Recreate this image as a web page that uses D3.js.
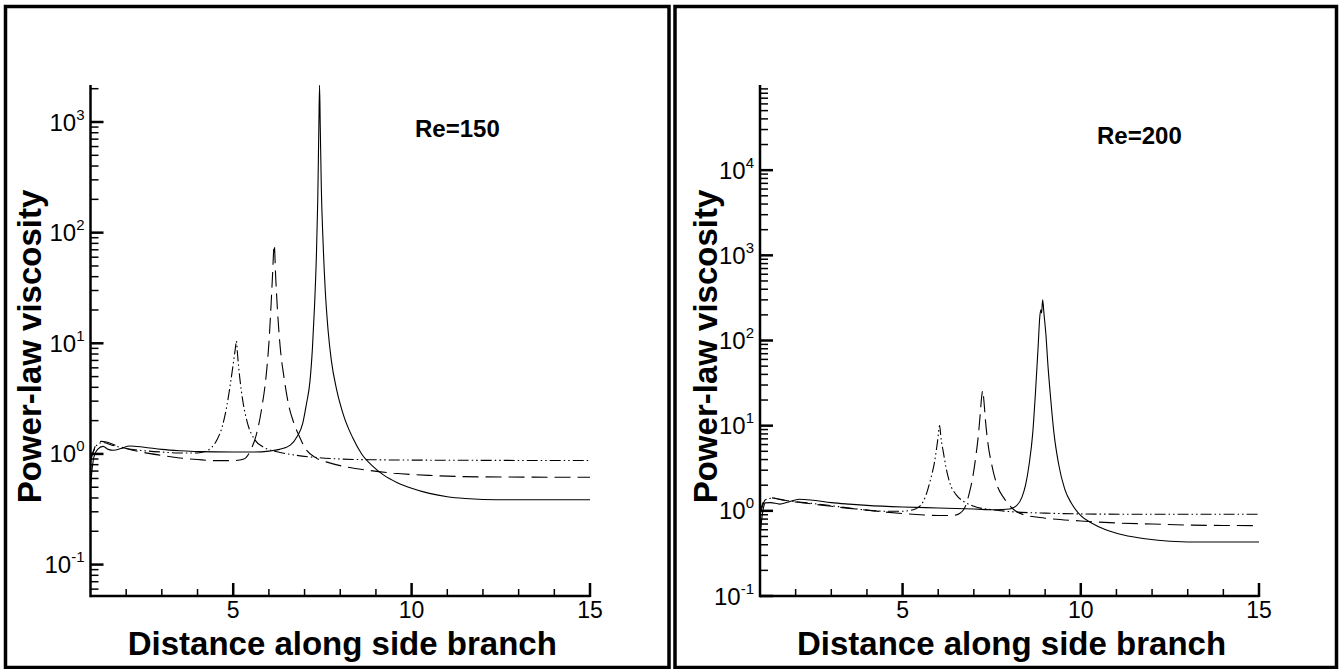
<!DOCTYPE html>
<html>
<head>
<meta charset="utf-8">
<script src="https://cdn.jsdelivr.net/npm/d3@7"></script>
<style>
  body { margin: 0; background: #fff; }
  svg { display: block; }
  text { font-family: "Liberation Sans", Arial, Helvetica, sans-serif; fill: #000; }
</style>
</head>
<body>
<svg id="chart" width="1343" height="669"></svg>
<script>
// ---- axis ticks ----
const xMajorTicks = [5, 10, 15];
const xMinorTicks = [2, 3, 4, 6, 7, 8, 9, 11, 12, 13, 14];
const yExponentsRe150 = [-1, 0, 1, 2, 3];
const yExponentsRe200 = [-1, 0, 1, 2, 3, 4];

// ---- Re = 150 : [distance, viscosity] ----
const re150Solid = [[1.0,0.5],[1.05,0.75],[1.1,0.95],[1.2,1.1],[1.35,1.17],[1.5,1.1],[1.65,1.08],[1.85,1.12],[2.1,1.18],[2.5,1.15],[3,1.1],[3.5,1.07],[4,1.05],[5,1.04],[5.6,1.04],[6,1.06],[6.3,1.1],[6.6,1.2],[6.8,1.45],[6.95,1.9],[7.05,2.8],[7.15,4.5],[7.22,9],[7.28,22],[7.33,60],[7.37,200],[7.4,900],[7.42,2150],[7.44,900],[7.47,250],[7.52,80],[7.58,30],[7.66,13],[7.75,7],[7.9,3.8],[8.1,2.2],[8.35,1.4],[8.6,1.0],[8.9,0.78],[9.2,0.65],[9.6,0.55],[10,0.49],[10.5,0.44],[11,0.41],[11.5,0.395],[12,0.388],[13,0.385],[15,0.385]];
const re150Dashed = [[1.0,0.85],[1.06,1.0],[1.15,1.2],[1.3,1.3],[1.45,1.28],[1.7,1.2],[2.0,1.12],[2.5,1.03],[3,0.97],[3.5,0.92],[4,0.89],[4.5,0.87],[5,0.87],[5.3,0.9],[5.5,1.1],[5.65,1.5],[5.8,2.6],[5.92,5],[6.0,10],[6.06,22],[6.1,40],[6.15,78],[6.19,40],[6.24,20],[6.32,9],[6.42,5],[6.55,2.8],[6.7,1.9],[6.85,1.45],[7.0,1.15],[7.3,0.93],[7.7,0.83],[8.2,0.76],[8.8,0.71],[9.5,0.67],[10.5,0.64],[12,0.62],[15,0.615]];
const re150DashDotDot = [[1.0,0.9],[1.08,1.05],[1.2,1.22],[1.35,1.27],[1.6,1.2],[2,1.12],[2.5,1.07],[3,1.04],[3.5,1.02],[4,1.02],[4.2,1.05],[4.4,1.15],[4.55,1.35],[4.7,1.8],[4.82,2.7],[4.93,4.5],[5.0,6.5],[5.06,9],[5.09,10.5],[5.12,8],[5.18,5],[5.27,3],[5.4,1.9],[5.6,1.35],[5.85,1.15],[6.2,1.05],[6.7,0.98],[7.3,0.93],[8,0.9],[9,0.885],[10,0.88],[12,0.875],[15,0.872]];

// ---- Re = 200 : [distance, viscosity] ----
const re200Solid = [[1.0,0.5],[1.05,0.8],[1.1,1.1],[1.15,1.24],[1.3,1.25],[1.55,1.2],[1.8,1.27],[2.1,1.37],[2.5,1.33],[3,1.25],[3.5,1.2],[4,1.16],[5,1.11],[6,1.08],[7,1.05],[7.6,1.03],[8.0,1.05],[8.2,1.15],[8.35,1.45],[8.45,2],[8.55,3.5],[8.65,8],[8.73,25],[8.8,80],[8.85,190],[8.88,230],[8.9,210],[8.93,300],[8.97,200],[9.02,120],[9.08,50],[9.15,22],[9.25,8],[9.38,3.5],[9.55,1.8],[9.75,1.2],[10,0.88],[10.3,0.72],[10.7,0.6],[11.2,0.52],[11.8,0.47],[12.5,0.44],[13.5,0.43],[15,0.43]];
const re200Dashed = [[1.0,0.9],[1.06,1.1],[1.15,1.35],[1.3,1.42],[1.6,1.35],[2,1.27],[2.5,1.2],[3,1.13],[3.5,1.07],[4,1.02],[4.5,0.97],[5,0.93],[5.5,0.9],[6,0.88],[6.4,0.88],[6.6,0.93],[6.75,1.1],[6.87,1.6],[6.97,2.5],[7.06,4.5],[7.13,8],[7.18,14],[7.22,22],[7.25,26],[7.28,20],[7.33,11],[7.4,6],[7.5,3.5],[7.65,2],[7.85,1.4],[8.1,1.05],[8.4,0.9],[9,0.82],[10,0.76],[11,0.72],[12,0.7],[13,0.68],[15,0.67]];
const re200DashDotDot = [[1.0,0.95],[1.07,1.2],[1.15,1.35],[1.35,1.41],[1.7,1.33],[2.4,1.23],[3,1.15],[3.5,1.08],[4,1.02],[4.5,0.99],[5,0.99],[5.3,1.03],[5.5,1.15],[5.65,1.5],[5.78,2.3],[5.9,3.8],[5.98,6.5],[6.04,10],[6.08,7],[6.14,5],[6.22,3.2],[6.33,2.1],[6.5,1.55],[6.7,1.3],[7.0,1.13],[7.5,1.03],[8,0.98],[9,0.94],[10,0.92],[12,0.91],[15,0.91]];

const lineStyles = {
  solid: null,
  dashed: "16,7",
  dashDotDot: "11,3,1.5,3,1.5,3"
};

// Layout of the two framed panels
const panels = [
  {
    label: "Re=150", labelX: 415, labelY: 137,
    frame: { x: 5.5, y: 6.5, w: 663.5, h: 661 },
    plot: { left: 90.5, right: 590, top: 85, bottom: 596 },
    yDomain: [0.052, 2160], exponents: yExponentsRe150,
    yTitleX: 41,
    series: [
      { data: re150Solid, style: "solid" },
      { data: re150Dashed, style: "dashed" },
      { data: re150DashDotDot, style: "dashDotDot" }
    ]
  },
  {
    label: "Re=200", labelX: 1097, labelY: 144,
    frame: { x: 675, y: 6.5, w: 661.5, h: 661 },
    plot: { left: 760, right: 1259, top: 85, bottom: 596 },
    yDomain: [0.1, 1e5], exponents: yExponentsRe200,
    yTitleX: 717,
    series: [
      { data: re200Solid, style: "solid" },
      { data: re200Dashed, style: "dashed" },
      { data: re200DashDotDot, style: "dashDotDot" }
    ]
  }
];

const svg = d3.select("#chart");

panels.forEach(p => {
  const g = svg.append("g");

  // frame
  g.append("rect")
    .attr("x", p.frame.x).attr("y", p.frame.y)
    .attr("width", p.frame.w).attr("height", p.frame.h)
    .attr("fill", "none").attr("stroke", "#000").attr("stroke-width", 3.5);

  const x = d3.scaleLinear().domain([1, 15]).range([p.plot.left, p.plot.right]);
  const y = d3.scaleLog().domain(p.yDomain).range([p.plot.bottom, p.plot.top]);

  // curves
  const clipId = "clip-" + p.label.replace(/[^a-z0-9]/gi, "");
  g.append("clipPath").attr("id", clipId).append("rect")
    .attr("x", p.plot.left).attr("y", p.plot.top - 2)
    .attr("width", p.plot.right - p.plot.left + 1)
    .attr("height", p.plot.bottom - p.plot.top + 2);

  const line = d3.line()
    .x(d => x(d[0])).y(d => y(d[1]))
    .curve(d3.curveMonotoneX);

  const curves = g.append("g").attr("clip-path", `url(#${clipId})`);
  p.series.forEach(s => {
    curves.append("path")
      .datum(s.data)
      .attr("d", line)
      .attr("fill", "none")
      .attr("stroke", "#000")
      .attr("stroke-width", 1.1)
      .attr("stroke-dasharray", lineStyles[s.style]);
  });

  // x axis: line + inward ticks
  const xAxis = g.append("g");
  xAxis.append("line")
    .attr("x1", p.plot.left).attr("x2", p.plot.right)
    .attr("y1", p.plot.bottom).attr("y2", p.plot.bottom)
    .attr("stroke", "#000").attr("stroke-width", 2.5);
  xMinorTicks.forEach(t => {
    xAxis.append("line")
      .attr("x1", x(t)).attr("x2", x(t))
      .attr("y1", p.plot.bottom).attr("y2", p.plot.bottom - 7)
      .attr("stroke", "#000").attr("stroke-width", 1.5);
  });
  xMajorTicks.forEach(t => {
    xAxis.append("line")
      .attr("x1", x(t)).attr("x2", x(t))
      .attr("y1", p.plot.bottom + 1).attr("y2", p.plot.bottom - 13)
      .attr("stroke", "#000").attr("stroke-width", 2.5);
    xAxis.append("text")
      .attr("x", x(t)).attr("y", p.plot.bottom + 22)
      .attr("text-anchor", "middle")
      .attr("font-size", 23)
      .text(t);
  });

  // y axis: log decades with minor ticks
  const yAxis = g.append("g");
  yAxis.append("line")
    .attr("x1", p.plot.left).attr("x2", p.plot.left)
    .attr("y1", p.plot.bottom + 1.25).attr("y2", p.plot.top)
    .attr("stroke", "#000").attr("stroke-width", 2.5);

  const [lo, hi] = p.yDomain;
  for (let e = Math.floor(Math.log10(lo)); e <= Math.ceil(Math.log10(hi)); e++) {
    for (let k = 2; k <= 9; k++) {
      const v = k * Math.pow(10, e);
      if (v < lo || v > hi) continue;
      yAxis.append("line")
        .attr("x1", p.plot.left).attr("x2", p.plot.left + 8)
        .attr("y1", y(v)).attr("y2", y(v))
        .attr("stroke", "#000").attr("stroke-width", 1.5);
    }
  }
  p.exponents.forEach(e => {
    const yy = y(Math.pow(10, e));
    yAxis.append("line")
      .attr("x1", p.plot.left).attr("x2", p.plot.left + 13)
      .attr("y1", yy).attr("y2", yy)
      .attr("stroke", "#000").attr("stroke-width", 2.5);
    const t = yAxis.append("text")
      .attr("x", p.plot.left - 6).attr("y", yy + 8.5)
      .attr("text-anchor", "end")
      .attr("font-size", 24);
    t.append("tspan").text("10");
    t.append("tspan").attr("font-size", 15).attr("dy", -11).text(e);
  });

  // axis titles
  g.append("text")
    .attr("x", (p.plot.left + p.plot.right) / 2 + 2)
    .attr("y", 655)
    .attr("text-anchor", "middle")
    .attr("font-size", 33).attr("font-weight", "bold")
    .text("Distance along side branch");

  g.append("text")
    .attr("transform", `translate(${p.yTitleX},${(p.plot.top + p.plot.bottom) / 2 + 6}) rotate(-90)`)
    .attr("text-anchor", "middle")
    .attr("font-size", 33).attr("font-weight", "bold")
    .text("Power-law viscosity");

  // Reynolds number label
  g.append("text")
    .attr("x", p.labelX).attr("y", p.labelY)
    .attr("font-size", 24).attr("font-weight", "bold")
    .text(p.label);
});
</script>
</body>
</html>
